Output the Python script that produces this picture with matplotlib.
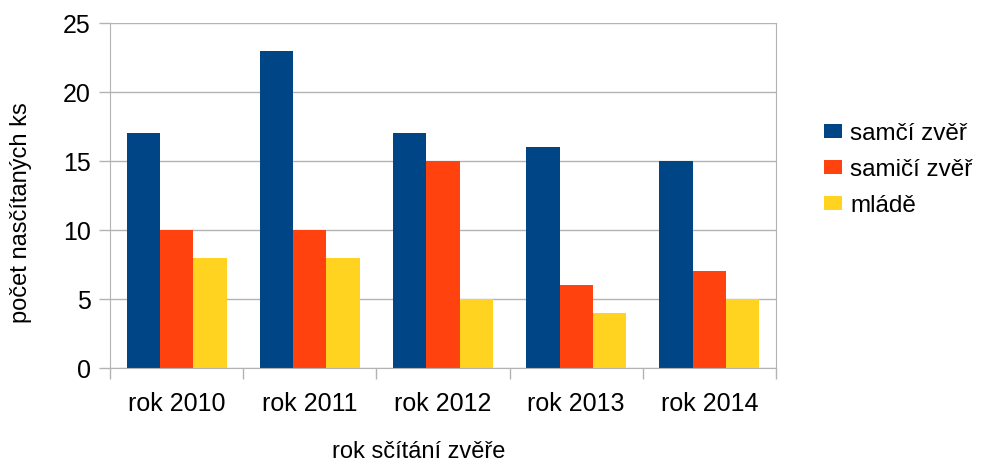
import numpy as np
import matplotlib.pyplot as plt
from matplotlib.ticker import FixedLocator

plt.rcParams['font.family'] = ['Liberation Sans', 'DejaVu Sans']

roky = ["rok 2010", "rok 2011", "rok 2012", "rok 2013", "rok 2014"]
samci = [17, 23, 17, 16, 15]
samice = [10, 10, 15, 6, 7]
mladata = [8, 8, 5, 4, 5]

serie = [("samčí zvěř", samci, "#004586"),
         ("samičí zvěř", samice, "#ff420e"),
         ("mládě", mladata, "#ffd320")]

fig = plt.figure(figsize=(9.83, 4.66), dpi=100)
ax = fig.add_axes([0.1119, 0.2103, 0.6775, 0.7403])

x = np.arange(len(roky))
w = 0.25
for i, (nazev, hodnoty, barva) in enumerate(serie):
    ax.bar(x + (i - 1) * w, hodnoty, w, color=barva, label=nazev, zorder=2)

seda = "#b3b3b3"
ax.set_xlim(-0.5, len(roky) - 0.5)
ax.set_ylim(0, 25)
ax.set_yticks(range(0, 26, 5))
ax.yaxis.grid(True, color=seda, linewidth=1, zorder=0)

ax.set_xticks(x)
ax.set_xticklabels(roky, fontsize=18)
ax.xaxis.set_minor_locator(FixedLocator(np.arange(-0.5, len(roky), 1)))
ax.tick_params(axis='x', which='major', length=0, pad=17)
ax.tick_params(axis='x', which='minor', length=8, color=seda, width=1)
ax.tick_params(axis='y', length=8, color=seda, width=1, labelsize=18, pad=6)

for s in ["left", "right", "bottom"]:
    ax.spines[s].set_color(seda)
ax.spines["top"].set_visible(False)

ax.set_xlabel("rok sčítání zvěře", fontsize=17)
ax.set_ylabel("počet nasčítaných ks", fontsize=17)
ax.xaxis.set_label_coords(0.463, -0.212)
ax.yaxis.set_label_coords(-0.117, 0.449)

ax.legend(loc="center left", bbox_to_anchor=(1.04, 0.575), frameon=False,
          fontsize=17.5, handlelength=0.7, handleheight=0.53,
          handletextpad=0.35, labelspacing=0.58)

fig.savefig("out.png")
